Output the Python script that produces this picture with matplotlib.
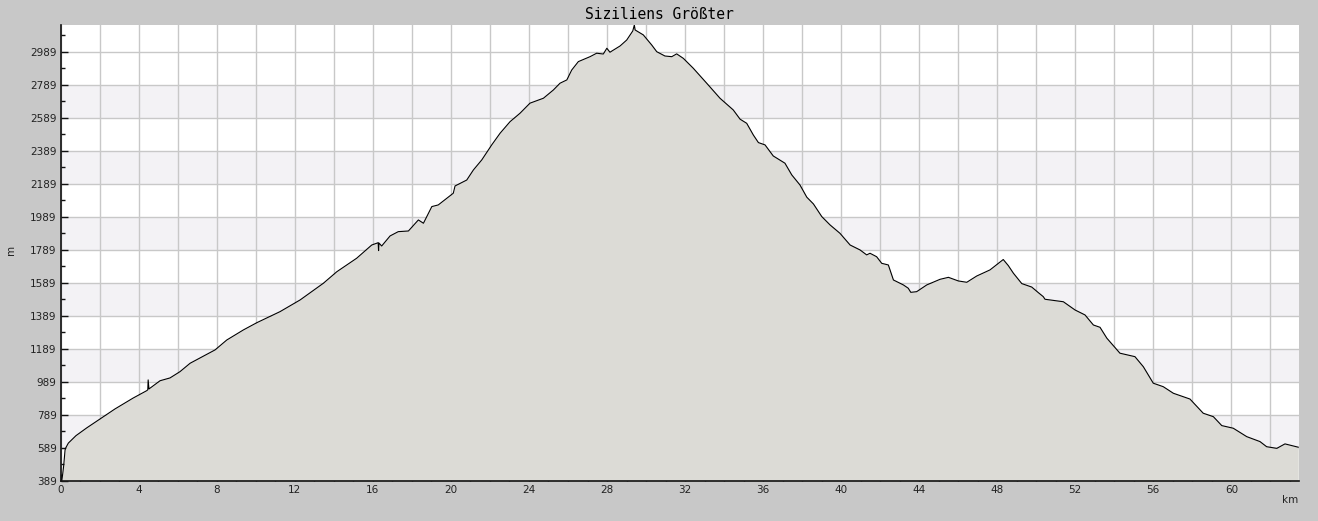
import numpy as np
import matplotlib
matplotlib.use("Agg")
import matplotlib.pyplot as plt
from matplotlib.ticker import MultipleLocator, FuncFormatter

# elevation profile: km / metres
km = [0.05, 0.10, 0.15, 0.22, 0.26, 0.39, 0.78, 1.33, 2.01, 2.78, 3.71, 4.41,
      4.46, 4.48, 4.52, 5.09, 5.60, 6.11, 6.63, 7.91, 8.51, 9.36, 10.05, 11.24,
      12.27, 13.46, 14.15, 15.17, 15.94, 16.27, 16.29, 16.31, 16.45, 16.88, 17.30,
      17.82, 18.33, 18.59, 19.02, 19.35, 19.78, 20.12, 20.21, 20.81, 21.15, 21.58,
      22.09, 22.52, 23.03, 23.54, 24.05, 24.74, 25.25, 25.59, 25.94, 26.19, 26.53,
      27.13, 27.47, 27.81, 27.99, 28.15, 28.67, 29.01, 29.32, 29.40, 29.44, 29.86,
      30.29, 30.55, 30.97, 31.32, 31.57, 31.91, 32.42, 33.11, 33.79, 34.47, 34.82,
      35.16, 35.50, 35.76, 36.10, 36.52, 37.12, 37.47, 37.89, 38.24, 38.58, 39.01,
      39.43, 39.94, 40.46, 40.97, 41.31, 41.48, 41.82, 42.08, 42.42, 42.68, 43.19,
      43.44, 43.57, 43.87, 44.39, 45.07, 45.50, 46.01, 46.44, 46.95, 47.63, 48.06,
      48.31, 48.57, 48.83, 49.26, 49.77, 50.11, 50.36, 50.45, 51.39, 51.99, 52.50,
      52.93, 53.27, 53.62, 54.29, 55.06, 55.49, 56.00, 56.51, 57.03, 57.88, 58.56,
      59.08, 59.51, 60.10, 60.79, 61.47, 61.81, 62.33, 62.75, 63.43]
elev = [389, 430, 480, 575, 589, 617, 662, 709, 763, 824, 890, 935,
        940, 1000, 945, 995, 1012, 1050, 1101, 1182, 1242, 1303, 1347, 1414,
        1485, 1586, 1656, 1738, 1818, 1832, 1784, 1830, 1812, 1873, 1899,
        1903, 1970, 1950, 2051, 2061, 2101, 2132, 2176, 2212, 2273, 2334,
        2425, 2496, 2566, 2617, 2678, 2708, 2758, 2799, 2819, 2879, 2930,
        2960, 2981, 2976, 3011, 2987, 3025, 3061, 3116, 3152, 3122, 3092,
        3031, 2990, 2964, 2960, 2977, 2950, 2890, 2799, 2708, 2637, 2581,
        2556, 2485, 2439, 2425, 2358, 2314, 2243, 2182, 2108, 2067, 1990,
        1940, 1889, 1818, 1788, 1758, 1768, 1747, 1707, 1697, 1606, 1576,
        1556, 1531, 1535, 1576, 1610, 1622, 1600, 1592, 1630, 1667, 1707,
        1730, 1693, 1647, 1584, 1563, 1529, 1505, 1489, 1474, 1424, 1394,
        1333, 1319, 1253, 1162, 1141, 1080, 980, 959, 919, 884, 798,
        777, 723, 707, 656, 626, 595, 585, 612, 592]

title = "Siziliens Größter"
y_min, y_max = 389, 3152
x_max = 63.47

bg = "#c8c8c8"
band = "#f3f2f5"
fill = "#dcdbd6"
grid = "#c8c8c8"

fig = plt.figure(figsize=(13.18, 5.21), dpi=100, facecolor=bg)
ax = fig.add_axes([0.0461, 0.0774, 0.9395, 0.8746])
ax.set_facecolor("white")

# alternating shaded bands, white above the top label
for lo in range(589, 2600, 400):
    ax.axhspan(lo, lo + 200, color=band, lw=0, zorder=0)

ax.set_xlim(0, x_max)
ax.set_ylim(y_min, y_max)

ax.set_yticks(np.arange(389, 3000, 200))
ax.set_yticks(np.arange(489, 3100, 200), minor=True)
ax.xaxis.set_major_locator(MultipleLocator(2))
ax.xaxis.set_minor_locator(MultipleLocator(1))
ax.xaxis.set_major_formatter(FuncFormatter(lambda v, p: "%d" % v if round(v) % 4 == 0 else ""))

ax.grid(True, which="major", color=grid, lw=1, zorder=1)
ax.set_axisbelow(True)

ax.fill_between(km, elev, y_min, color=fill, lw=0, zorder=2)
ax.plot(km, elev, color="black", lw=0.8, zorder=3)

for s in ["top", "right"]:
    ax.spines[s].set_visible(False)
for s in ["left", "bottom"]:
    ax.spines[s].set_color("#111111")
    ax.spines[s].set_linewidth(1.2)
    ax.spines[s].set_zorder(4)

ax.tick_params(which="major", direction="in", length=5, width=1, color="#111111",
               labelsize=7.5, labelcolor="#222222", pad=3)
ax.tick_params(which="minor", direction="in", length=3, width=1, color="#111111")

fig.text(0.5, 0.972, title, ha="center", va="center", fontsize=10.5,
         family="DejaVu Sans Mono", color="black")
fig.text(0.0085, 0.52, "m", rotation=90, ha="center", va="center", fontsize=7.5,
         color="#222222")
fig.text(0.979, 0.04, "km", ha="center", va="center", fontsize=7.5, color="#222222")

fig.savefig("out.png", dpi=100, facecolor=bg)
